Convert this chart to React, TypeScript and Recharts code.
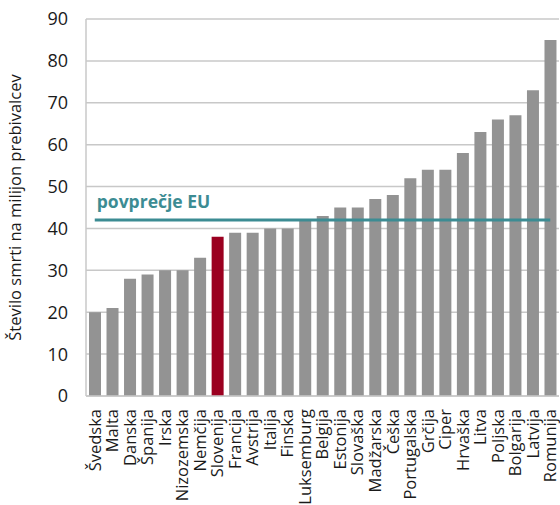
import { BarChart, Bar, XAxis, YAxis, CartesianGrid, ReferenceLine, Cell } from 'recharts'

const countries = [
  'Švedska', 'Malta', 'Danska', 'Španija', 'Irska', 'Nizozemska', 'Nemčija', 'Slovenija', 'Francija',
  'Avstrija', 'Italija', 'Finska', 'Luksemburg', 'Belgija', 'Estonija', 'Slovaška', 'Madžarska', 'Češka',
  'Portugalska', 'Grčija', 'Ciper', 'Hrvaška', 'Litva', 'Poljska', 'Bolgarija', 'Latvija', 'Romunija'
]
const deaths = [20, 21, 28, 29, 30, 30, 33, 38, 39, 39, 40, 40, 42, 43, 45, 45, 47, 48, 52, 54, 54, 58, 63, 66, 67, 73, 85]
const yTicks = [0, 10, 20, 30, 40, 50, 60, 70, 80, 90]
const euAverage = 42
const euLabel = 'povprečje EU'
const highlighted = 'Slovenija'
const yTitle = 'Število smrti na milijon prebivalcev'

const data = countries.map((name, i) => ({ name, value: deaths[i] }))

const FONT = '"Open Sans", sans-serif'
const TEAL = '#3c8c93'

function CountryTick({ x, y, payload }: any) {
  return (
    <g transform={`translate(${x},${y + 5})`}>
      <text
        transform="rotate(-90)"
        textAnchor="end"
        dy="0.36em"
        fontSize={16.5}
        fontFamily={FONT}
        fill="#1a1a1a"
      >
        {payload.value}
      </text>
    </g>
  )
}

function AverageLabel({ viewBox }: any) {
  return (
    <text
      x={viewBox.x + 2}
      y={viewBox.y - 12}
      fill={TEAL}
      fontSize={17.5}
      fontWeight={700}
      fontFamily={FONT}
    >
      {euLabel}
    </text>
  )
}

export default function App() {
  return (
    <div style={{ position: 'absolute', left: 0, top: 0, background: '#fff' }}>
      <BarChart
        width={560}
        height={505}
        data={data}
        margin={{ top: 19, right: 1, left: 0, bottom: 0 }}
      >
        <CartesianGrid vertical={false} stroke="#c8c8c8" strokeWidth={1.5} />
        <XAxis
          dataKey="name"
          interval={0}
          height={109}
          tick={<CountryTick />}
          tickLine={false}
          axisLine={{ stroke: '#c8c8c8', strokeWidth: 1.5 }}
        />
        <YAxis
          domain={[0, 90]}
          ticks={yTicks}
          width={86}
          tickSize={0}
          tickMargin={18}
          axisLine={{ stroke: '#c8c8c8', strokeWidth: 1.5 }}
          tick={{ fontSize: 18, fontFamily: FONT, fill: '#1a1a1a' }}
          label={{
            value: yTitle,
            angle: -90,
            position: 'insideLeft',
            offset: 15,
            style: { textAnchor: 'middle', fontSize: 16.5, fontFamily: FONT, fill: '#1a1a1a' }
          }}
        />
        <Bar dataKey="value" barSize={12} isAnimationActive={false}>
          {data.map((d) => (
            <Cell key={d.name} fill={d.name === highlighted ? '#9b0020' : '#939393'} />
          ))}
        </Bar>
        <ReferenceLine
          segment={[
            { x: countries[0], y: euAverage },
            { x: countries[countries.length - 1], y: euAverage }
          ]}
          stroke={TEAL}
          strokeWidth={3}
          label={<AverageLabel />}
        />
      </BarChart>
    </div>
  )
}
